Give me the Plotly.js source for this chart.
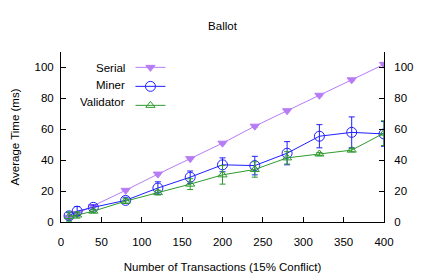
<!DOCTYPE html>
<html><head><meta charset="utf-8">
<script src="https://cdn.plot.ly/plotly-3.0.1.min.js"></script>
<style>body{margin:0;background:#fff}#c{width:443px;height:277px}</style>
</head><body><div id="c"></div>
<script>
const txCounts = [10, 20, 40, 80, 120, 160, 200, 240, 280, 320, 360, 400];
const serialTime = [3, 5.5, 10, 20.5, 31, 41, 51, 62, 72, 82, 92, 102];
const serialErr = [0.3, 0.3, 0.4, 0.5, 0.5, 0.5, 0.5, 0.6, 0.6, 0.6, 0.6, 0.7];
const minerTime = [4, 7, 9.5, 14, 22, 29, 37, 36.5, 44.5, 55.5, 58, 57];
const minerErr = [2, 3, 1.5, 2, 4, 4, 4.5, 6, 7.5, 7.5, 10, 8];
const validatorTime = [3.5, 4.5, 7, 13.5, 19, 24.5, 30.5, 34, 41.5, 44, 46.5, 57.5];
const validatorErr = [3, 2, 1, 1.5, 1.5, 3.5, 6, 5, 4, 1, 1, 8];
const seriesNames = ["Serial", "Miner", "Validator"];
const yTicks = [0, 20, 40, 60, 80, 100];
const xTicks = [0, 50, 100, 150, 200, 250, 300, 350, 400];

const colors = ["#b77cf5", "#1f1fff", "#2e9a2e"];
const font = {family: "Liberation Sans, Arial, sans-serif", size: 11.5, color: "#000"};

function tr(y, err, i, sym) {
  return {
    x: txCounts, y: y, type: "scatter", mode: "lines+markers", name: "",
    line: {color: colors[i], width: 1},
    marker: {symbol: sym, size: sym.indexOf("circle") >= 0 ? 10 : 8, color: colors[i],
             line: {color: colors[i], width: 1}},
    error_y: {type: "data", array: err, visible: true, color: colors[i], thickness: 1, width: 3},
    showlegend: true
  };
}
const data = [
  tr(serialTime, serialErr, 0, "triangle-down"),
  tr(minerTime, minerErr, 1, "circle-open"),
  tr(validatorTime, validatorErr, 2, "triangle-up-open")
];

const axisCommon = {
  showgrid: false, zeroline: false, showline: true, linecolor: "#000", linewidth: 1,
  ticks: "inside", ticklen: 5, tickcolor: "#000", tickfont: font
};

const layout = {
  width: 443, height: 277,
  margin: {l: 61, r: 59, t: 52, b: 55},
  paper_bgcolor: "#fff", plot_bgcolor: "#fff",
  font: font,
  title: {text: "Ballot", font: {family: font.family, size: 11.5, color: "#000"}, x: 0.5, xanchor: "center",
    xref: "paper", yref: "paper", y: 1.16, yanchor: "middle"},
  xaxis: Object.assign({}, axisCommon, {range: [0, 400], tickvals: xTicks, mirror: false, ticklabelstandoff: 9,
    title: {text: "Number of Transactions (15% Conflict)", font: font, standoff: 16}}),
  yaxis: Object.assign({}, axisCommon, {range: [0, 110], tickvals: yTicks, mirror: false, ticklabelstandoff: 4,
    title: {text: "Average Time (ms)", font: font, standoff: 12}}),
  yaxis2: Object.assign({}, axisCommon, {range: [0, 110], tickvals: yTicks, overlaying: "y", side: "right", matches: "y", ticklabelstandoff: 7}),
  showlegend: true,
  legend: {x: 0.215, y: 0.995, xanchor: "left", yanchor: "top", bgcolor: "rgba(0,0,0,0)",
    font: {family: font.family, size: 9}, tracegroupgap: 0, itemwidth: 30},
  annotations: seriesNames.map((n, i) => ({
    text: n, xref: "paper", yref: "paper", x: 0.205, y: 0.906 - i * 0.1, xanchor: "right", yanchor: "middle",
    showarrow: false, font: font
  }))
};
data.push({x: [0], y: [0], yaxis: "y2", mode: "markers", marker: {opacity: 0}, showlegend: false, hoverinfo: "skip"});
Plotly.newPlot("c", data, layout, {staticPlot: true});
</script></body></html>
